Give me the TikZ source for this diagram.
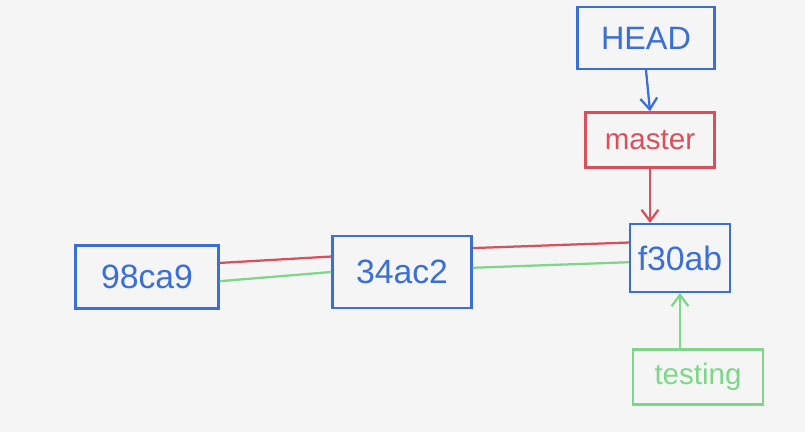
\documentclass[tikz,border=0pt]{standalone}
\usepackage{fontspec}
\setmainfont{Liberation Sans}
\usepackage{xcolor}
\usetikzlibrary{arrows.meta}
\definecolor{penblue}{RGB}{58,110,216}
\definecolor{penred}{RGB}{217,80,92}
\definecolor{pengreen}{RGB}{126,214,138}
\definecolor{paper}{RGB}{244,245,244}

\begin{document}
\begin{tikzpicture}[x=0.025cm,y=-0.025cm,line width=1.6pt,
    commit/.style={draw=penblue,text=penblue,font=\fontsize{24}{28}\selectfont,inner sep=0pt},
    branch/.style={draw=#1,text=#1,font=\fontsize{21}{25}\selectfont,inner sep=0pt},
    tip/.style={-{Straight Barb[length=8pt,width=12pt]}}]
    \fill[paper] (0,0) rectangle (805,432);
    \useasboundingbox (0,0) rectangle (805,432);
    % commits
    \node[commit,minimum width=3.58cm,minimum height=1.58cm] (c98ca9) at (147,277) {98ca9};
    \node[commit,minimum width=3.48cm,minimum height=1.8cm] (c34ac2) at (402,272) {34ac2};
    \node[commit,minimum width=2.5cm,minimum height=1.7cm] (cf30ab) at (680,258) {f30ab};
    % pointers
    \node[branch=penblue,font=\fontsize{23}{27}\selectfont,minimum width=3.43cm,minimum height=1.55cm] (head) at (646,38) {HEAD};
    \node[branch=penred,minimum width=3.23cm,minimum height=1.38cm] (master) at (650,140) {master};
    \node[branch=pengreen,minimum width=3.25cm,minimum height=1.38cm] (testing) at (698,377) {testing};
    % history
    \draw[penred] ([yshift=10pt]c98ca9.east) -- ([yshift=11pt]c34ac2.west);
    \draw[pengreen] ([yshift=-3pt]c98ca9.east) -- (c34ac2.west);
    \draw[penred] ([yshift=17pt]c34ac2.east) -- ([yshift=11pt]cf30ab.west);
    \draw[pengreen] ([yshift=3pt]c34ac2.east) -- ([yshift=-3pt]cf30ab.west);
    % references
    \draw[tip,penblue] (head.south) -- (master.north);
    \draw[tip,penred] (master.south) -- (master.south |- cf30ab.north);
    \draw[tip,pengreen] (testing.north -| cf30ab.south) -- (cf30ab.south);
\end{tikzpicture}
\end{document}
